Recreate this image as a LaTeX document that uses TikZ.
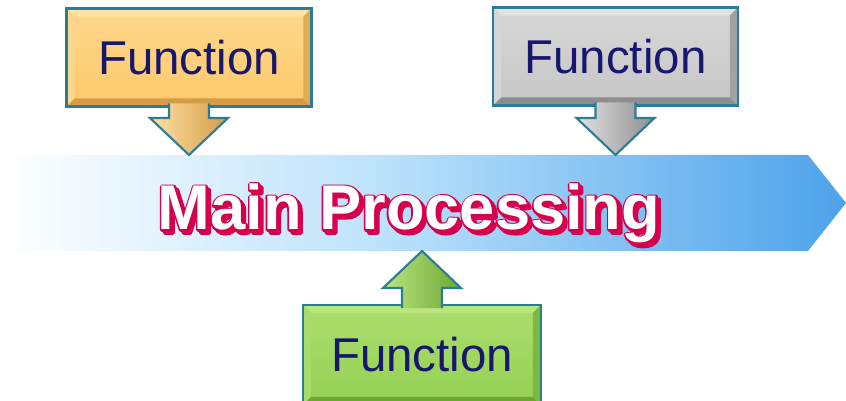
\documentclass[tikz,border=0pt]{standalone}
\usepackage{fontspec}
\setmainfont{Liberation Sans}
\usetikzlibrary{calc}

\definecolor{boxedge}{HTML}{2B7C99}
\definecolor{fnavy}{HTML}{17176E}
\definecolor{crimson}{HTML}{D6004C}
\definecolor{bandmid}{HTML}{BEE3FB}
\definecolor{banddeep}{HTML}{4DA2EA}
% faces and bevels: yellow, gray, green
\definecolor{yface}{HTML}{FDC96A}
\definecolor{ytop}{HTML}{FFE2A4}
\definecolor{yleft}{HTML}{FFD68E}
\definecolor{ybot}{HTML}{D49C48}
\definecolor{yright}{HTML}{E2AC56}
\definecolor{gface}{HTML}{C6C6C6}
\definecolor{gtop}{HTML}{E2E2E2}
\definecolor{gleft}{HTML}{D6D6D6}
\definecolor{gbot}{HTML}{8E8E8E}
\definecolor{gright}{HTML}{A2A2A2}
\definecolor{vface}{HTML}{94D152}
\definecolor{vtop}{HTML}{BAE680}
\definecolor{vleft}{HTML}{A7DC6A}
\definecolor{vbot}{HTML}{6EA636}
\definecolor{vright}{HTML}{7CB842}

\pgfdeclarehorizontalshading{bandfade}{100bp}{color(0bp)=(white); color(25bp)=(white);
  color(47bp)=(bandmid); color(75bp)=(banddeep); color(100bp)=(banddeep)}

% text filled and stroked thickly in crimson, for the rim under the white title
\newcommand{\rimtext}[1]{\special{pdf:code q 2 Tr 2.2 w 1 j 0.839 0 0.298 RG}#1\special{pdf:code Q}}

\tikzset{
  funcbox/.style={inner sep=0pt, outer sep=0pt, minimum width=4.9cm, minimum height=1.96cm,
    text=fnavy, font=\fontsize{27}{31}\selectfont},
  mptext/.style={anchor=base, inner sep=0pt, font=\fontsize{36}{40}\selectfont\bfseries},
  pointer/.style={draw=boxedge, line width=1.2pt, line join=miter},
}

% bevelled rim round a box node: #1 node, #2 top, #3 left, #4 bottom, #5 right
\newcommand{\bevel}[5]{%
  \fill[#2] (#1.north west) -- (#1.north east) -- ($(#1.north east)+(-8,-8)$) -- ($(#1.north west)+(8,-8)$) -- cycle;
  \fill[#3] (#1.north west) -- ($(#1.north west)+(8,-8)$) -- ($(#1.south west)+(8,8)$) -- (#1.south west) -- cycle;
  \fill[#4] (#1.south west) -- (#1.south east) -- ($(#1.south east)+(-8,8)$) -- ($(#1.south west)+(8,8)$) -- cycle;
  \fill[#5] (#1.north east) -- ($(#1.north east)+(-8,-8)$) -- ($(#1.south east)+(-8,8)$) -- (#1.south east) -- cycle;
  \draw[boxedge, line width=1.4pt] (#1.north west) rectangle (#1.south east);
}

% block arrow from box anchor #1 to tip #2, #3 = 1 down / -1 up, #4 shading
\newcommand{\pointer}[4]{%
  \shadedraw[pointer, #4] ($(#1)+(-20,3*#3)$) -- ($(#2)+(-20,37*#3)$) -- ($(#2)+(-39,37*#3)$)
    -- (#2) -- ($(#2)+(39,37*#3)$) -- ($(#2)+(20,37*#3)$) -- ($(#1)+(20,3*#3)$);
}

\begin{document}
\begin{tikzpicture}[x=0.02cm, y=0.02cm]
\useasboundingbox (0,0) rectangle (846,-401);

% the processing band
\coordinate (bandtop) at (0,-155);
\coordinate (bandbot) at (0,-251);
\shade[shading=bandfade] (bandtop) -- (808,-155) -- (846,-203) -- (808,-251) -- (bandbot) -- cycle;

% title: shadow, crimson rim, white face
\coordinate (mp) at (409,-230);
\node[mptext, text=crimson] (mpshadow) at ($(mp)+(3,-3)$) {\rimtext{Main Processing}};
\node[mptext, text=crimson] (mprim) at (mp) {\rimtext{Main Processing}};
\node[mptext, text=white] (mptitle) at (mp) {Main Processing};

% function boxes
\node[funcbox, top color=ytop!60!yface, bottom color=yface] (fyellow) at (189,-57.5) {Function};
\bevel{fyellow}{ytop}{yleft}{ybot}{yright}
\node[funcbox, top color=gtop!60!gface, bottom color=gface] (fgray) at (615.5,-56.5) {Function};
\bevel{fgray}{gtop}{gleft}{gbot}{gright}
\node[funcbox, minimum width=4.76cm, minimum height=2cm, top color=vtop!60!vface, bottom color=vface] (fgreen) at (422,-355) {Function};
\bevel{fgreen}{vtop}{vleft}{vbot}{vright}

% arrows into the band
\coordinate (tipyellow) at (fyellow.south |- bandtop);
\coordinate (tipgray) at (fgray.south |- bandtop);
\coordinate (tipgreen) at (fgreen.north |- bandbot);
\pointer{fyellow.south}{tipyellow}{1}{left color=ytop, middle color=yface, right color=ybot}
\pointer{fgray.south}{tipgray}{1}{left color=gtop, middle color=gface, right color=gbot}
\pointer{fgreen.north}{tipgreen}{-1}{left color=vtop, middle color=vface, right color=vbot}
\end{tikzpicture}
\end{document}
